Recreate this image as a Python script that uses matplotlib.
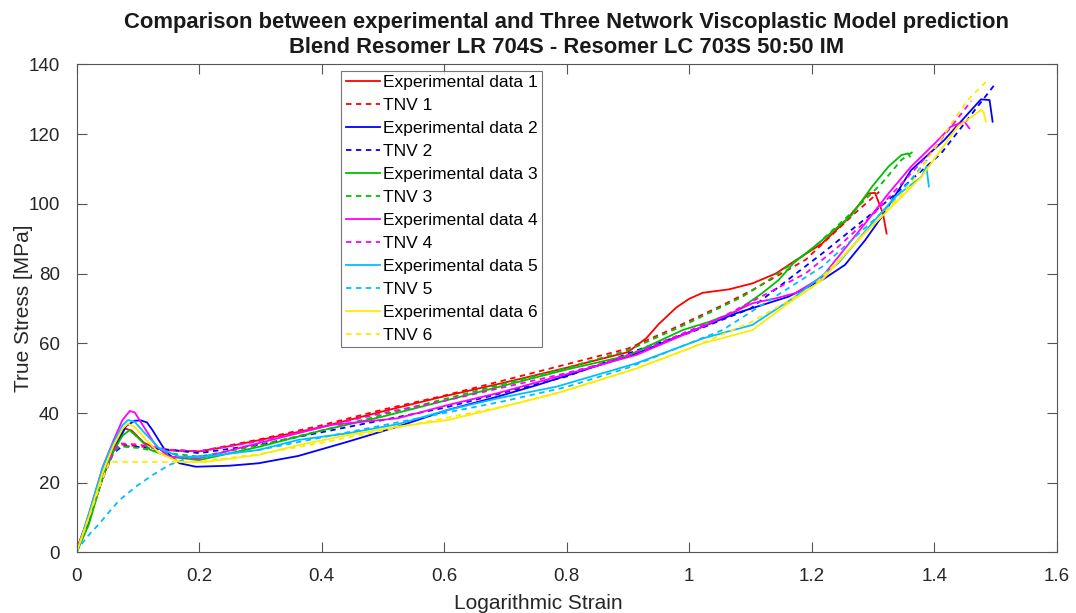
import matplotlib
matplotlib.use("Agg")
import matplotlib.pyplot as plt

plt.rcParams['font.family'] = ['Liberation Sans', 'DejaVu Sans']

# experimental data (solid) and TNV model prediction (dashed)
x_exp1 = [0, 0.02, 0.04, 0.06, 0.078, 0.09, 0.11, 0.13, 0.15, 0.2, 0.25, 0.3, 0.4, 0.5, 0.6, 0.7, 0.8, 0.9,
          0.93, 0.95, 0.965, 0.979, 1.0, 1.022, 1.065, 1.103, 1.141, 1.17, 1.217, 1.254, 1.292, 1.303,
          1.316, 1.322]
y_exp1 = [1, 10, 20, 30, 35.6, 35, 31.5, 29.8, 29.3, 29, 30.5, 32.3, 36, 40.5, 44.8, 48.8, 53, 57.5,
          61.5, 65.5, 68, 70.3, 72.8, 74.5, 75.5, 77.2, 80, 83.4, 88.7, 94.9, 103, 103.2,
          97.3, 91.5]
x_tnv1 = [0, 0.02, 0.04, 0.06, 0.07, 0.1, 0.15, 0.2, 0.3, 0.4, 0.5, 0.6, 0.7, 0.8, 0.9, 0.968, 1.049,
          1.103, 1.19, 1.27, 1.31]
y_tnv1 = [0, 10, 20, 29, 31, 30.5, 29.5, 29, 32.5, 36.5, 41, 45, 49.5, 54, 58.5, 63.8, 70.5,
          75.3, 84, 97.3, 103.5]

x_exp2 = [0, 0.02, 0.043, 0.06, 0.081, 0.095, 0.105, 0.115, 0.124, 0.135, 0.146, 0.168, 0.195, 0.25,
          0.297, 0.362, 0.443, 0.524, 0.606, 0.687, 0.751, 0.84, 0.914, 0.995, 1.076, 1.162, 1.217,
          1.254, 1.287, 1.314, 1.362, 1.416, 1.46, 1.476, 1.49, 1.495]
y_exp2 = [0, 9, 21.7, 29, 36.3, 37.8, 37.9, 37.3, 35.1, 32, 28.9, 25.6, 24.6, 24.9,
          25.6, 27.7, 31.8, 36.1, 40.9, 44.7, 48, 53, 57.1, 62.9, 68.6, 73.4, 78.2,
          82.5, 89.6, 96.3, 109.7, 118.3, 126.9, 130, 129.8, 123.6]
x_tnv2 = [0, 0.02, 0.04, 0.06, 0.075, 0.1, 0.15, 0.2, 0.3, 0.4, 0.5, 0.6, 0.7, 0.8, 0.93, 1.0, 1.1,
          1.217, 1.325, 1.411, 1.5]
y_tnv2 = [0, 10, 20, 28.5, 30.5, 30.3, 29.5, 28.5, 31, 34.5, 38, 41.5, 46, 50.5, 59, 63, 70,
          85.8, 101.1, 114.5, 134.6]

x_exp3 = [0, 0.02, 0.043, 0.06, 0.075, 0.0865, 0.1, 0.12, 0.15, 0.2, 0.3, 0.4, 0.5, 0.6, 0.7, 0.8,
          0.9, 0.989, 1.033, 1.076, 1.119, 1.146, 1.17, 1.217, 1.265, 1.298, 1.325, 1.346, 1.357, 1.36]
y_exp3 = [0, 8, 21.7, 29, 33.5, 35.1, 33, 29.5, 27.5, 26.5, 30.4, 35, 39, 43.5, 48, 52.5,
          56.5, 63.8, 66.2, 69.1, 74.4, 78.2, 83, 89.6, 96.8, 104.9, 110.7, 114, 114.5, 113.6]
x_tnv3 = [0, 0.02, 0.04, 0.06, 0.07, 0.1, 0.15, 0.2, 0.3, 0.4, 0.5, 0.6, 0.7, 0.8, 0.9, 0.995,
          1.087, 1.13, 1.2, 1.27, 1.314, 1.346, 1.365]
y_tnv3 = [0, 10, 20, 28.5, 30.5, 30, 28.5, 27.5, 30.8, 35, 39.5, 44, 48.5, 53, 58, 65.5,
          73.4, 78.2, 87, 98.3, 105.9, 112.6, 115]

x_exp4 = [0, 0.02, 0.043, 0.06, 0.075, 0.087, 0.095, 0.11, 0.13, 0.151, 0.2, 0.3, 0.416, 0.524,
          0.606, 0.687, 0.784, 0.914, 1.022, 1.103, 1.141, 1.173, 1.217, 1.287, 1.325, 1.362,
          1.406, 1.427, 1.449, 1.457]
y_exp4 = [0, 11, 24.6, 32, 38, 40.6, 40.2, 36, 30.5, 27.5, 27, 31.5, 36.6, 38.5,
          42.3, 45.7, 50.4, 56.7, 64.8, 71.5, 72.9, 74.4, 79.1, 94.4, 103, 110.7,
          118.3, 122.2, 123.6, 121.7]
x_tnv4 = [0, 0.02, 0.04, 0.06, 0.07, 0.1, 0.15, 0.2, 0.3, 0.4, 0.5, 0.6, 0.7, 0.8, 0.86, 0.93,
          1.054, 1.19, 1.243, 1.3, 1.4, 1.46]
y_tnv4 = [0, 10, 20, 29, 31.3, 31, 29.5, 29, 32, 36, 40, 43.5, 47.5, 51.5, 54.3, 58.5,
          67.6, 80.1, 87.7, 97, 116, 129.5]

x_exp5 = [0, 0.02, 0.043, 0.06, 0.075, 0.084, 0.095, 0.11, 0.135, 0.168, 0.211, 0.297, 0.362,
          0.443, 0.524, 0.606, 0.687, 0.784, 0.914, 1.022, 1.103, 1.173, 1.243, 1.298, 1.336,
          1.379, 1.387, 1.391]
y_exp5 = [0, 11, 24.6, 31.5, 36.5, 38, 37.5, 34.5, 29.9, 27.5, 27.5, 29.4, 32.3,
          34.2, 36.8, 40.9, 44.2, 47.6, 54.3, 61.4, 65.3, 73.4, 83, 94.4, 102,
          107.8, 110.7, 105]
x_tnv5 = [0, 0.005, 0.02, 0.038, 0.055, 0.07, 0.097, 0.124, 0.151, 0.189, 0.25, 0.3, 0.4, 0.5,
          0.6, 0.7, 0.8, 0.9, 1.054, 1.217, 1.325, 1.39]
y_tnv5 = [0, 1.7, 5, 8.4, 12, 15, 18.9, 22.2, 25.1, 27.5, 28.5, 29.5, 33, 36.5,
          40, 43.5, 47.5, 53, 63.8, 82, 99.2, 113]

x_exp6 = [0, 0.02, 0.043, 0.06, 0.075, 0.084, 0.095, 0.11, 0.135, 0.168, 0.211, 0.297, 0.362,
          0.443, 0.524, 0.606, 0.687, 0.784, 0.914, 1.022, 1.103, 1.162, 1.217, 1.27, 1.325,
          1.379, 1.438, 1.476, 1.48, 1.484]
y_exp6 = [0, 10, 23, 30.5, 35.5, 37, 36, 33, 28.5, 26, 26, 28, 30.8,
          33.7, 36.1, 38, 41.4, 45.7, 52.8, 60, 63.8, 71.5, 78.2, 88.7, 98.3,
          107.8, 122.2, 126.9, 126.5, 123.6]
x_tnv6 = [0, 0.02, 0.04, 0.054, 0.1, 0.15, 0.2, 0.3, 0.4, 0.5, 0.6, 0.7, 0.8, 0.9, 1.0, 1.1, 1.2,
          1.3, 1.362, 1.454, 1.487]
y_tnv6 = [0, 10, 20, 26, 26, 26, 26, 28.3, 31.5, 35, 38.5, 42, 46.5, 52, 58.5, 66, 76,
          94, 105.9, 129.8, 135.5]

colors = ['#ff0000', '#0000ff', '#00c000', '#ff00ff', '#00bfff', '#ffea00']
series = [(x_exp1, y_exp1, x_tnv1, y_tnv1),
          (x_exp2, y_exp2, x_tnv2, y_tnv2),
          (x_exp3, y_exp3, x_tnv3, y_tnv3),
          (x_exp4, y_exp4, x_tnv4, y_tnv4),
          (x_exp5, y_exp5, x_tnv5, y_tnv5),
          (x_exp6, y_exp6, x_tnv6, y_tnv6)]

fig = plt.figure(figsize=(10.76, 6.13), dpi=100)
ax = fig.add_axes([0.0711, 0.0987, 0.9112, 0.7961])

for i, (xe, ye, xt, yt) in enumerate(series):
    ax.plot(xe, ye, color=colors[i], lw=1.3, label='Experimental data %d' % (i + 1))
    ax.plot(xt, yt, color=colors[i], lw=1.3, linestyle=(0, (3, 2.5)), label='TNV %d' % (i + 1))

ax.set_xlim(0, 1.6)
ax.set_ylim(0, 140)
ax.set_xticks([0, 0.2, 0.4, 0.6, 0.8, 1, 1.2, 1.4, 1.6])
ax.set_xticklabels(['0', '0.2', '0.4', '0.6', '0.8', '1', '1.2', '1.4', '1.6'])
ax.set_yticks(range(0, 141, 20))
ax.tick_params(direction='in', top=True, right=True, length=7, width=0.8,
               color='#555555', labelcolor='#262626', labelsize=13.5)
ax.tick_params(axis='x', pad=11)
ax.tick_params(axis='y', pad=12)
for s in ax.spines.values():
    s.set_color('#555555')
    s.set_linewidth(0.8)

ax.set_xlabel('Logarithmic Strain', fontsize=15, color='#262626')
ax.xaxis.set_label_coords(0.4707, -0.085)
ax.set_ylabel('True Stress [MPa]', fontsize=15, color='#262626')
ax.yaxis.set_label_coords(-0.044, 0.5)
ax.set_title('Comparison between experimental and Three Network Viscoplastic Model prediction\n'
             'Blend Resomer LR 704S - Resomer LC 703S 50:50 IM',
             fontsize=15.8, fontweight='bold', color='#1a1a1a', linespacing=1.3, pad=8)

leg = ax.legend(loc='upper left', bbox_to_anchor=(0.27, 0.987), fontsize=12.5, frameon=True,
                fancybox=False, edgecolor='#555555', handlelength=2.0, handletextpad=0.15,
                labelspacing=0.45, borderaxespad=0, borderpad=0.25)
leg.get_frame().set_linewidth(0.8)

plt.savefig('out.png', dpi=100)
